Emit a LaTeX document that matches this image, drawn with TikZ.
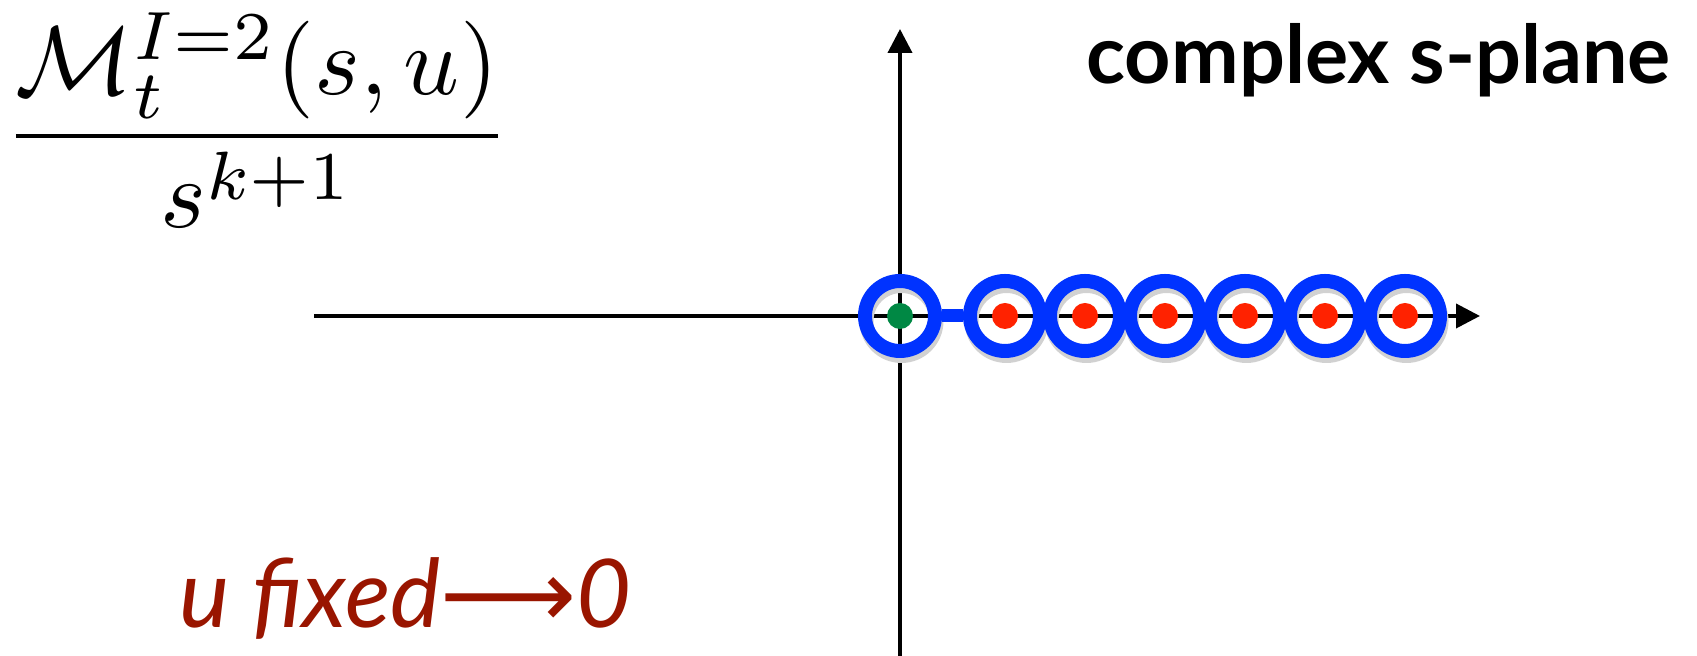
\documentclass[tikz,border=0pt]{standalone}
\usepackage[no-math]{fontspec}
\usetikzlibrary{arrows.meta}
\newfontfamily\gillfont{Lato}
\newfontfamily\arrowfont{DejaVu Sans}
\definecolor{ringblue}{RGB}{0,51,255}
\definecolor{polered}{RGB}{255,34,0}
\definecolor{polegreen}{RGB}{0,136,68}
\definecolor{labelred}{RGB}{153,21,0}

\begin{document}
\begin{tikzpicture}[
  every node/.style={inner sep=0pt},
  axis/.style={line width=1.1pt, -{Triangle[width=0.24cm, length=0.24cm]}},
  ring/.style={circle, draw=ringblue, line width=0.14cm, minimum size=0.70cm},
  shade ring/.style={circle, draw=black!18, line width=0.14cm, minimum size=0.70cm},
  pole/.style={circle, fill=#1, minimum size=0.26cm}
]
\useasboundingbox (0,0) rectangle (16.97,6.56);

% axes
\coordinate (origin) at (9.00,3.40);
\coordinate (left) at (3.14,3.40);
\coordinate (right) at (14.80,3.40);
\coordinate (bottom) at (9.00,0);
\coordinate (top) at (9.00,6.27);
\draw[axis] (left) -- (right);
\draw[axis] (bottom) -- (top);

% circles round the poles
\node[shade ring] at (9.015,3.35) {};
\foreach \i in {1,...,6}
  \node[shade ring] at (9.265+0.8*\i,3.35) {};
\node[ring] (c0) at (origin) {};
\foreach \i in {1,...,6}
  \node[ring] (c\i) at (9.25+0.8*\i,3.40) {};
\draw[ringblue, line width=0.13cm] (c0) -- (c1);

% poles
\node[pole=polegreen] (p0) at (c0) {};
\foreach \i in {1,...,6}
  \node[pole=polered] (p\i) at (c\i) {};

% labels
\node[scale=2.78, transform shape] (ratio) at (2.57,5.36) {$\displaystyle\frac{\mathcal{M}_t^{I=2}(s,u)}{s^{k+1}}$};
\node[anchor=base west, font=\gillfont\bfseries\fontsize{23}{27}\selectfont] (title) at (10.86,5.72) {complex s-plane};
\node[anchor=base west, text=labelred, font=\gillfont\itshape\fontsize{27}{31}\selectfont] (limit) at (1.79,0.28) {u fixed{\arrowfont ⟶}0};
\end{tikzpicture}
\end{document}
